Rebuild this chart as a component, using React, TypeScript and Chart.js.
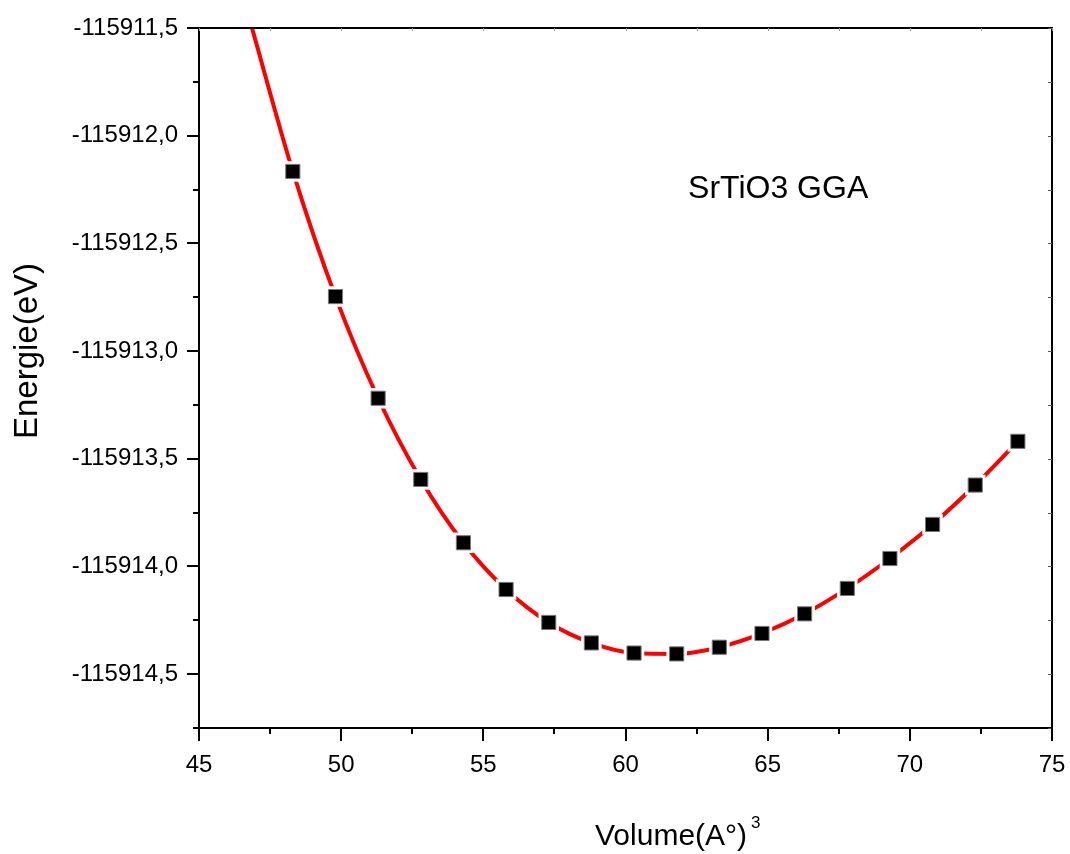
import React, { useEffect, useRef } from "react";
import { Chart, registerables } from "chart.js";

Chart.register(...registerables);

// Data
const volume = [48.3, 49.8, 51.3, 52.8, 54.3, 55.8, 57.3, 58.8, 60.3, 61.8, 63.3, 64.8, 66.3, 67.8, 69.3, 70.8, 72.3, 73.8];
const energy = [
  -115912.166, -115912.747, -115913.219, -115913.596, -115913.89, -115914.107,
  -115914.26, -115914.355, -115914.402, -115914.406, -115914.375, -115914.311,
  -115914.22, -115914.102, -115913.963, -115913.805, -115913.622, -115913.419,
];
// fitted curve (starts one step earlier, above the top of the frame)
const fitVolume = [46.8, ...volume];
const fitEnergy = [-115911.47, ...energy];

const X_MIN = 45;
const X_MAX = 75;
const X_MAJOR = 5;
const X_MINOR = 2.5;
const Y_MIN = -115914.75;
const Y_MAX = -115911.5;
const Y_MAJOR = 0.5;
const Y_MINOR = 0.25;

const xTitle = "Volume(A°)";
const xTitleSup = "3";
const yTitle = "Energie(eV)";
const note = "SrTiO3 GGA";
const noteX = 62.2;
const noteY = -115912.29;

const FONT = "'Liberation Sans', Arial, Helvetica, sans-serif";

const isMultiple = (v: number, step: number, origin: number) => {
  const r = (v - origin) / step;
  return Math.abs(r - Math.round(r)) < 1e-6;
};

const framePlugin = {
  id: "framePlugin",
  afterDraw(chart: any) {
    const { ctx, chartArea: a, scales } = chart;
    const x = scales.x;
    const y = scales.y;
    ctx.save();
    // frame
    ctx.strokeStyle = "#000";
    ctx.lineWidth = 2;
    ctx.strokeRect(a.left, a.top, a.right - a.left, a.bottom - a.top);

    // y ticks
    for (let k = 0; ; k++) {
      const v = Y_MIN + k * Y_MINOR;
      if (v > Y_MAX + 1e-9) break;
      const py = Math.round(y.getPixelForValue(v));
      const major = isMultiple(v, Y_MAJOR, 0);
      ctx.strokeStyle = "#000";
      ctx.lineWidth = 2;
      ctx.beginPath();
      ctx.moveTo(a.left - (major ? 12 : 6), py);
      ctx.lineTo(a.left, py);
      ctx.stroke();
      ctx.strokeStyle = "#555";
      ctx.lineWidth = 1;
      ctx.beginPath();
      ctx.moveTo(a.right - 4, py + 0.5);
      ctx.lineTo(a.right, py + 0.5);
      ctx.stroke();
    }
    // x ticks
    for (let k = 0; ; k++) {
      const v = X_MIN + k * X_MINOR;
      if (v > X_MAX + 1e-9) break;
      const px = Math.round(x.getPixelForValue(v));
      const major = isMultiple(v, X_MAJOR, 0);
      ctx.strokeStyle = "#000";
      ctx.lineWidth = 2;
      ctx.beginPath();
      ctx.moveTo(px, a.bottom);
      ctx.lineTo(px, a.bottom + (major ? 13 : 6));
      ctx.stroke();
      ctx.strokeStyle = "#999";
      ctx.lineWidth = 1;
      ctx.beginPath();
      ctx.moveTo(px + 0.5, a.top);
      ctx.lineTo(px + 0.5, a.top + 3);
      ctx.stroke();
    }

    // titles
    ctx.fillStyle = "#000";
    ctx.textBaseline = "alphabetic";
    ctx.textAlign = "left";
    ctx.font = `30px ${FONT}`;
    const tx = a.left + 396;
    const ty = a.bottom + 117;
    ctx.fillText(xTitle, tx, ty);
    const w = ctx.measureText(xTitle).width;
    ctx.font = `17px ${FONT}`;
    ctx.fillText(xTitleSup, tx + w + 4, ty - 17);

    ctx.save();
    ctx.translate(a.left - 171, (a.top + a.bottom) / 2 - 27);
    ctx.rotate(-Math.PI / 2);
    ctx.font = `33px ${FONT}`;
    ctx.textAlign = "center";
    ctx.textBaseline = "middle";
    ctx.fillText(yTitle, 0, 0);
    ctx.restore();

    ctx.font = `32px ${FONT}`;
    ctx.textAlign = "left";
    ctx.textBaseline = "alphabetic";
    ctx.fillText(note, x.getPixelForValue(noteX), y.getPixelForValue(noteY));
    ctx.restore();
  },
};

export default function App() {
  const ref = useRef<HTMLCanvasElement | null>(null);
  useEffect(() => {
    if (!ref.current) return;
    const pts = volume.map((v, i) => ({ x: v, y: energy[i] }));
    const fitPts = fitVolume.map((v, i) => ({ x: v, y: fitEnergy[i] }));
    const chart = new Chart(ref.current, {
      type: "line",
      data: {
        datasets: [
          {
            data: pts,
            showLine: false,
            pointStyle: "rect",
            pointRadius: 10,
            pointHoverRadius: 10,
            pointBackgroundColor: "#000",
            pointBorderColor: "#777",
            pointBorderWidth: 1,
            order: 1,
            clip: 0,
          } as any,
          {
            data: pts,
            showLine: false,
            pointStyle: "rect",
            pointRadius: 14.5,
            pointHoverRadius: 14.5,
            pointBackgroundColor: "#fff",
            pointBorderWidth: 0,
            order: 2,
            clip: 0,
          } as any,
          {
            data: fitPts,
            borderColor: "#ff0000",
            borderWidth: 4,
            pointRadius: 0,
            cubicInterpolationMode: "monotone",
            fill: false,
            order: 3,
            clip: 0,
          } as any,
        ],
      },
      options: {
        animation: false,
        responsive: false,
        events: [],
        layout: { padding: { top: 28, right: 18, left: 0, bottom: 0 } },
        plugins: { legend: { display: false }, tooltip: { enabled: false } },
        scales: {
          x: {
            type: "linear",
            min: X_MIN,
            max: X_MAX,
            afterFit: (s: any) => {
              s.height = 126;
              s.paddingLeft = 0;
              s.paddingRight = 0;
            },
            border: { display: false },
            grid: { display: true, drawOnChartArea: false, drawTicks: true, tickLength: 13, color: "rgba(0,0,0,0)" },
            ticks: {
              stepSize: X_MAJOR,
              color: "#000",
              padding: 10,
              maxRotation: 0,
              font: { family: FONT, size: 24 },
              callback: (v: any) => String(v),
            },
          },
          y: {
            type: "linear",
            min: Y_MIN,
            max: Y_MAX,
            afterFit: (s: any) => {
              s.width = 199;
              s.paddingTop = 0;
              s.paddingBottom = 0;
            },
            border: { display: false },
            grid: { display: true, drawOnChartArea: false, drawTicks: true, tickLength: 12, color: "rgba(0,0,0,0)" },
            ticks: {
              stepSize: Y_MAJOR,
              color: "#000",
              padding: 9,
              font: { family: FONT, size: 24 },
              callback: (v: any) =>
                isMultiple(Number(v), Y_MAJOR, 0) ? Number(v).toFixed(1).replace(".", ",") : "",
            },
          },
        },
      },
      plugins: [framePlugin],
    } as any);
    return () => chart.destroy();
  }, []);
  return (
    <div style={{ position: "absolute", left: 0, top: 0, width: 1070, height: 854, background: "#fff" }}>
      <canvas ref={ref} width={1070} height={854} style={{ display: "block" }} />
    </div>
  );
}
